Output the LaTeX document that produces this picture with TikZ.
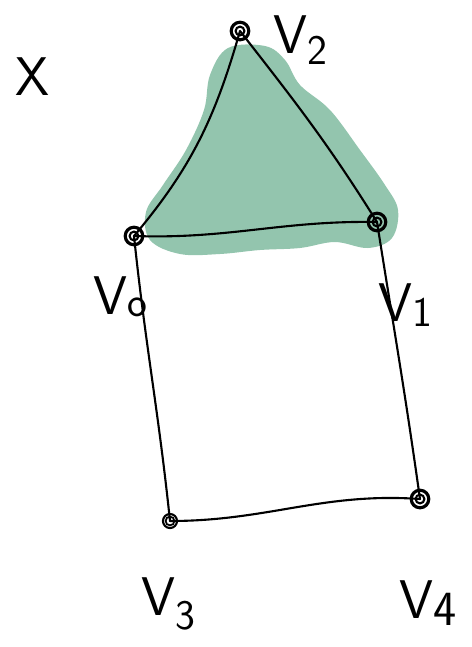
\documentclass[tikz,border=0pt]{standalone}
\usepackage{tikz}
\usetikzlibrary{positioning}
\definecolor{simplexgreen}{HTML}{93C5AE}
\tikzset{vlabel/.style={font=\sffamily\fontsize{31}{34}\selectfont},
  edge/.style={line width=1.2pt, black, line cap=round}}
\begin{document}
\begin{tikzpicture}[x=0.02cm,y=-0.02cm]
\useasboundingbox (0,0) rectangle (471,647);

	\coordinate (v0) at (134,236);
	\coordinate (v1) at (377,222);
	\coordinate (v2) at (240,31);
	\coordinate (v3) at (170,521);
	\coordinate (v4) at (420,499);

% green blob behind the 2-simplex
\fill[simplexgreen] plot[smooth cycle, tension=0.6] coordinates {
  (228,48) (265,46) (285,60) (300,85) (330,110) (360,150) (385,185) (398,210)
  (392,238) (368,248) (335,242) (300,248) (260,250) (220,254) (180,254)
  (150,240) (146,212) (163,185) (186,150) (204,110) (210,75)};

 \draw[edge] (v0) to [out=-2, in=179] (v1);
 \draw[edge] (v0) to [out=50, in=-106] (v2);
 \draw[edge] (v2) to [out=-52, in=122] (v1);
 \draw[edge] (v0) to [out=-84, in=96] (v3);
 \draw[edge] (v1) to [out=-81, in=98] (v4);
 \draw[edge] (v3) to [out=0, in=176] (v4);

 \foreach \i in {v0,v1,v2,v4}
 \draw[line width=1.8pt](\i) circle (5pt);
 \foreach \i in {v0,v1,v2,v4}
 \draw[line width=1.2pt](\i) circle (2.5pt);
 \draw[line width=1.2pt](v3) circle (4pt);
 \draw[line width=1pt](v3) circle (2.5pt);

  \node[vlabel] (X) at (33,77) {X};
  \node[vlabel] (lv2) at (300,40) {V\raisebox{-0.45ex}{\fontsize{24}{26}\selectfont 2}};
  \node[vlabel] (lv0) at (120,297) {V\raisebox{-0.1ex}{\fontsize{24}{26}\selectfont o}};
  \node[vlabel] (lv1) at (405,305) {V\raisebox{-0.2ex}{\fontsize{24}{26}\selectfont 1}};
  \node[vlabel] (lv3) at (168,604) {V\raisebox{-0.6ex}{\fontsize{24}{26}\selectfont 3}};
  \node[vlabel] (lv4) at (428,603) {V\raisebox{-0.3ex}{\fontsize{28}{30}\selectfont 4}};
  
  \end{tikzpicture}
\end{document}
